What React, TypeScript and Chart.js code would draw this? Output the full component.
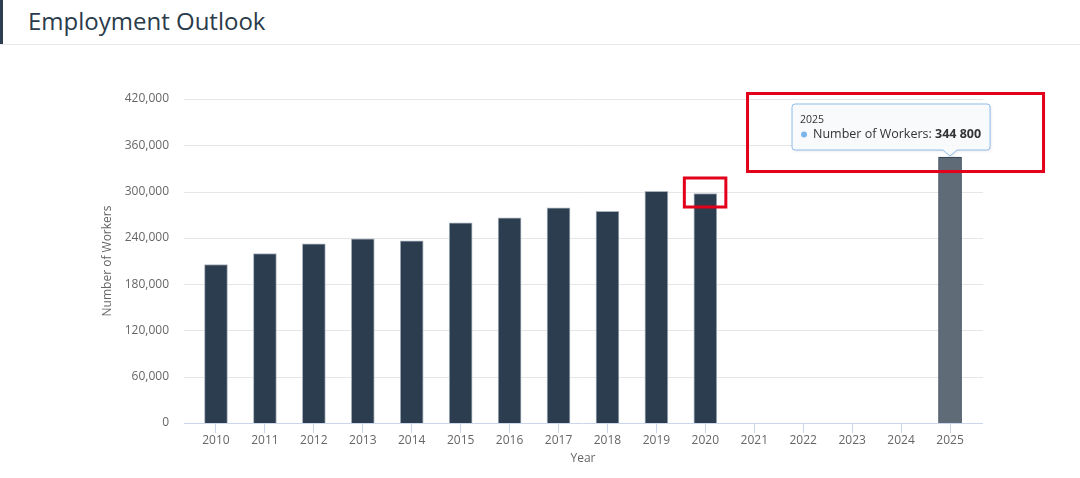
import React, { useEffect, useRef } from "react";
import { Chart, registerables } from "chart.js";

Chart.register(...registerables);

const years = ["2010", "2011", "2012", "2013", "2014", "2015", "2016", "2017", "2018", "2019", "2020", "2021", "2022", "2023", "2024", "2025"];
const workers: (number | null)[] = [205500, 219700, 232300, 238700, 236000, 259400, 265800, 278800, 274400, 300200, 297500, null, null, null, null, 344800];
const yTickStep = 60000;
const yMax = 420000;
const seriesName = "Number of Workers";
const highlightYear = "2025";
const markedYear = "2020";

const FONT = '"Open Sans", "Noto Sans", sans-serif';

function fmtSpace(v: number) {
  return String(v).replace(/\B(?=(\d{3})+(?!\d))/g, " ");
}

export default function App() {
  const ref = useRef<HTMLCanvasElement | null>(null);

  useEffect(() => {
    if (!ref.current) return;
    const hi = years.indexOf(highlightYear);
    const mk = years.indexOf(markedYear);

    const overlay = {
      id: "overlay",
      beforeDatasetsDraw(chart: any) {
        const { ctx, chartArea } = chart;
        const y = chart.scales.y;
        const l = chartArea.left - 7.5;
        const r = chartArea.right + 8.5;
        ctx.save();
        ctx.lineWidth = 1;
        y.ticks.forEach((t: any) => {
          const py = Math.round(y.getPixelForValue(t.value)) + 0.5;
          ctx.strokeStyle = t.value === 0 ? "#ccd6eb" : "#e6e6e6";
          ctx.beginPath();
          ctx.moveTo(l, py);
          ctx.lineTo(r, py);
          ctx.stroke();
        });
        ctx.restore();
      },
      afterDraw(chart: any) {
        const { ctx } = chart;
        const meta = chart.getDatasetMeta(0);
        const el = meta.data[hi];
        const em = meta.data[mk];
        ctx.save();
        // tooltip
        const w = 198, h = 46;
        const left = el.x - 158, top = el.y - 53;
        const bottom = top + h;
        const rr = 3;
        ctx.beginPath();
        ctx.moveTo(left + rr, top);
        ctx.lineTo(left + w - rr, top);
        ctx.arcTo(left + w, top, left + w, top + rr, rr);
        ctx.lineTo(left + w, bottom - rr);
        ctx.arcTo(left + w, bottom, left + w - rr, bottom, rr);
        ctx.lineTo(el.x + 7, bottom);
        ctx.lineTo(el.x, el.y - 1);
        ctx.lineTo(el.x - 7, bottom);
        ctx.lineTo(left + rr, bottom);
        ctx.arcTo(left, bottom, left, bottom - rr, rr);
        ctx.lineTo(left, top + rr);
        ctx.arcTo(left, top, left + rr, top, rr);
        ctx.closePath();
        ctx.shadowColor = "rgba(0,0,0,0.12)";
        ctx.shadowOffsetX = 1;
        ctx.shadowOffsetY = 1;
        ctx.shadowBlur = 3;
        ctx.fillStyle = "rgba(250,251,253,0.96)";
        ctx.fill();
        ctx.shadowColor = "transparent";
        ctx.strokeStyle = "#8fbcee";
        ctx.lineWidth = 1;
        ctx.stroke();

        ctx.textBaseline = "middle";
        ctx.textAlign = "left";
        ctx.fillStyle = "#333333";
        ctx.font = `10.5px ${FONT}`;
        ctx.fillText(years[hi], left + 8, top + 16);
        ctx.fillStyle = "#7cb5ec";
        ctx.beginPath();
        ctx.arc(left + 12, top + 30.5, 3, 0, Math.PI * 2);
        ctx.fill();
        ctx.fillStyle = "#333333";
        ctx.font = `12.5px ${FONT}`;
        const lbl = `${seriesName}: `;
        ctx.fillText(lbl, left + 21, top + 30);
        const lw = ctx.measureText(lbl).width;
        ctx.font = `bold 12.5px ${FONT}`;
        ctx.fillText(fmtSpace(workers[hi] as number), left + 21 + lw, top + 30);

        // red annotation boxes
        ctx.strokeStyle = "#e2001a";
        ctx.lineWidth = 3;
        ctx.strokeRect(em.x - 21, em.y - 15.5, 41.5, 29);
        ctx.strokeRect(el.x - 202.5, el.y - 63.5, 296, 78);
        ctx.restore();
      },
    };

    let chart: Chart | null = null;
    let cancelled = false;
    const build = () => {
      if (cancelled || !ref.current) return;
      chart = new Chart(ref.current, {
        type: "bar",
        data: {
          labels: years,
          datasets: [
            {
              label: seriesName,
              data: workers,
              backgroundColor: years.map((_, i) => (i === hi ? "#5f6b77" : "#2b3d4f")),
              borderColor: years.map((_, i) => (i === hi ? "#2b3d4f" : "#a9b3bd")),
              borderWidth: 1,
              barThickness: 23,
            },
          ],
        },
        options: {
          animation: false,
          responsive: false,
          devicePixelRatio: 1,
          layout: { padding: { left: 100, right: 105.5, top: 54, bottom: 0 } },
          plugins: { legend: { display: false }, tooltip: { enabled: false } },
          scales: {
            x: {
              offset: true,
              grid: { display: true, drawOnChartArea: false, drawTicks: true, tickLength: 10, color: "#ccd6eb", offset: false },
              border: { display: false },
              ticks: { color: "#666666", font: { size: 12, family: FONT }, padding: 0, maxRotation: 0, autoSkip: false },
              title: { display: true, text: "Year", color: "#666666", font: { size: 12, family: FONT }, padding: { top: 0, bottom: 12 } },
              afterFit: (s: any) => {
                s.height = 55;
              },
            },
            y: {
              min: 0,
              max: yMax,
              grid: { display: false, drawTicks: false },
              border: { display: false },
              ticks: {
                stepSize: yTickStep,
                color: "#666666",
                font: { size: 12, family: FONT },
                padding: 22.5,
                callback: (v: any) => Number(v).toLocaleString("en-US"),
              },
              title: { display: true, text: seriesName, color: "#666666", font: { size: 12, family: FONT }, padding: 0 },
              afterFit: (s: any) => {
                s.width = 91.5;
              },
            },
          },
        },
        plugins: [overlay],
      });
    };
    const fonts = (document as any).fonts;
    if (fonts && fonts.load) {
      Promise.all([
        fonts.load(`11px ${FONT}`),
        fonts.load(`bold 12px ${FONT}`),
      ]).then(build, build);
    } else build();
    return () => {
      cancelled = true;
      if (chart) chart.destroy();
    };
  }, []);

  return (
    <div style={{ position: "fixed", left: 0, top: 0, width: 1080, height: 478, background: "#fff", overflow: "hidden" }}>
      <div style={{ position: "absolute", left: 0, top: 0, width: 3, height: 44, background: "#2c3e50" }} />
      <div
        style={{
          position: "absolute",
          left: 28,
          top: 4,
          fontFamily: FONT,
          fontSize: 24,
          lineHeight: "34px",
          color: "#2a3b4b",
          whiteSpace: "nowrap",
        }}
      >
        Employment Outlook
      </div>
      <div style={{ position: "absolute", left: 0, top: 44, width: 1080, height: 1, background: "#e8e8e8" }} />
      <canvas ref={ref} width={1080} height={433} style={{ position: "absolute", left: 0, top: 45, width: 1080, height: 433 }} />
    </div>
  );
}
